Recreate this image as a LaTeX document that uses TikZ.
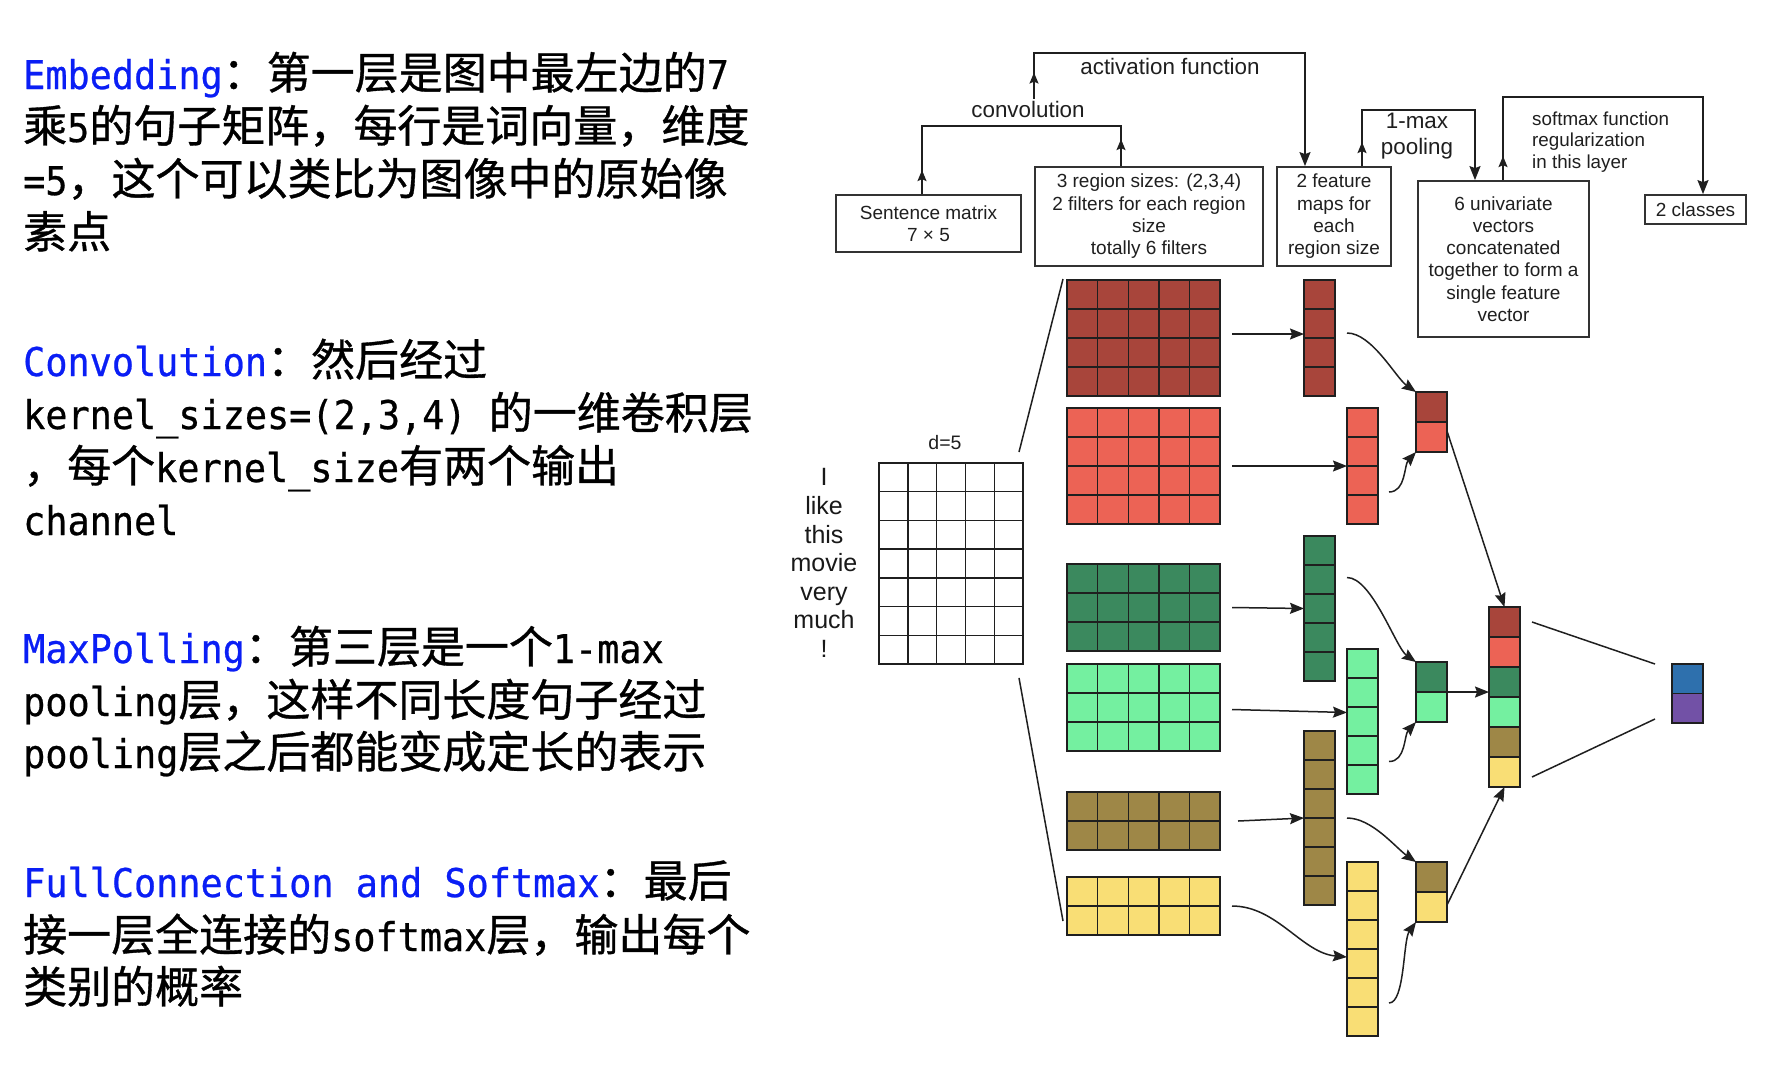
\documentclass[tikz,border=0pt]{standalone}
\usepackage{fontspec}
\setmainfont{Liberation Sans}
\newfontfamily\cjk[FakeBold=0.8]{Noto Sans CJK SC}
\newfontfamily\mono[Scale=0.9,FakeStretch=0.93,FakeBold=0.6]{DejaVu Sans Mono}
\usetikzlibrary{arrows.meta}
\definecolor{dred}{RGB}{168,69,59}
\definecolor{lred}{RGB}{236,99,85}
\definecolor{dgreen}{RGB}{59,137,94}
\definecolor{lgreen}{RGB}{116,240,160}
\definecolor{olive}{RGB}{158,135,71}
\definecolor{yel}{RGB}{249,222,117}
\definecolor{oblue}{RGB}{46,112,173}
\definecolor{opurple}{RGB}{114,81,166}
\definecolor{kwblue}{RGB}{10,30,245}
\definecolor{boxline}{RGB}{50,50,50}
\newcommand\zh[1]{{\cjk #1}}
\newcommand\en[1]{{\mono #1}}
\newcommand\kw[1]{{\mono\color{kwblue}#1}}
\tikzset{
  ltext/.style={anchor=base west, inner sep=0pt, font=\fontsize{44}{53}\selectfont},
  box/.style={draw=boxline, line width=1.8pt, align=center, inner sep=0pt, text=black!88,
              font=\fontsize{19}{22.3}\selectfont},
  lab/.style={inner sep=2pt, align=center, text=black!88, font=\fontsize{22.4}{26.7}\selectfont},
  conn/.style={line width=1.5pt, draw=black!88},
  arr/.style={conn, -{Stealth[length=14pt,width=11pt,inset=2pt]}},
  midup/.style={conn, -{Stealth[length=11pt,width=9pt,inset=2pt]}},
  mat/.style={draw=black!88, line width=1.4pt, anchor=north west, inner sep=0pt, outer sep=0pt},
  gridl/.style={line width=1.4pt, draw=black!88},
  cell/.style={mat, minimum width=31pt, minimum height=30pt},
}
\newcommand\mgrid[8]{%
  \node[mat, fill=#8, minimum width=#4*#6*1pt, minimum height=#5*#7*1pt] (#1) at (#2,#3) {};
  \foreach \k in {1,...,#4} \draw[gridl] ({#2+\k*#6},#3) -- ++(0,#5*#7);
  \foreach \k in {1,...,#5} \draw[gridl] (#2,{#3+\k*#7}) -- ++(#4*#6,0);
}
\begin{document}
\begin{tikzpicture}[x=1pt,y=-1pt]
\fill[white] (0,0) rectangle (1778,1072);
\useasboundingbox (0,0) rectangle (1778,1072);

% ---------------- left text ----------------
\node[ltext] (e1) at (23,89)  {\kw{Embedding}\zh{：第一层是图中最左边的}\en{7}};
\node[ltext] (e2) at (23,142) {\zh{乘}\en{5}\zh{的句子矩阵，每行是词向量，维度}};
\node[ltext] (e3) at (23,195) {\en{=5}\zh{，这个可以类比为图像中的原始像}};
\node[ltext] (e4) at (23,248) {\zh{素点}};

\node[ltext] (c1) at (23,376) {\kw{Convolution}\zh{：然后经过}};
\node[ltext] (c2) at (23,429) {\en{kernel\_sizes=(2,3,4)\ }\zh{的一维卷积层}};
\node[ltext] (c3) at (23,482) {\zh{，每个}\en{kernel\_size}\zh{有两个输出}};
\node[ltext] (c4) at (23,535) {\en{channel}};

\node[ltext] (m1) at (23,663) {\kw{MaxPolling}\zh{：第三层是一个}\en{1-max}};
\node[ltext] (m2) at (23,716) {\en{pooling}\zh{层，这样不同长度句子经过}};
\node[ltext] (m3) at (23,768) {\en{pooling}\zh{层之后都能变成定长的表示}};

\node[ltext] (f1) at (23,897) {\kw{FullConnection and Softmax}\zh{：最后}};
\node[ltext] (f2) at (23,951) {\zh{接一层全连接的}\en{softmax}\zh{层，输出每个}};
\node[ltext] (f3) at (23,1003){\zh{类别的概率}};

% ---------------- top boxes ----------------
\node[box, minimum width=185pt, minimum height=57pt] (sent) at (928.5,223.5) {Sentence matrix\\7 × 5};
\node[box, minimum width=228pt, minimum height=99pt] (filt) at (1149,216.5) {3 region sizes: (2,3,4)\\2 filters for each region\\size\\totally 6 filters};
\node[box, minimum width=114pt, minimum height=99pt] (fmap) at (1334,216.5) {2 feature\\maps for\\each\\region size};
\node[box, minimum width=171pt, minimum height=156pt] (univ) at (1503.5,259) {6 univariate\\vectors\\concatenated\\together to form a\\single feature\\vector};
\node[box, minimum width=101pt, minimum height=29pt] (cls) at (1695.5,209.5) {2 classes};

\node[lab] (conv) at (1028,109) {convolution};
\node[lab] (act) at (1170,66) {activation function};
\node[lab] (pool) at (1417,136) {1-max\\pooling};
\node[lab, anchor=west, align=left, font=\fontsize{18.8}{21.7}\selectfont] (soft) at (1530,142) {softmax function\\regularization\\in this layer};

% top connectors
\coordinate (cvL) at (922,126); \coordinate (cvR) at (1121,126);
\draw[conn] (sent.north -| cvL) -- (cvL) -- (cvR) -- (filt.north -| cvR);
\draw[midup] (sent.north -| cvL) -- ++(0,-24);
\draw[midup] (filt.north -| cvR) -- ++(0,-27);

\coordinate (acL) at (1034,53); \coordinate (acR) at (1305,53);
\draw[arr] (conv.north -| acL) -- (acL) -- (acR) -- (fmap.north -| acR);
\draw[midup] (conv.north -| acL) -- ++(0,-26);

\coordinate (plL) at (1362,110); \coordinate (plR) at (1475,110);
\draw[arr] (fmap.north -| plL) -- (plL) -- (plR) -- (univ.north -| plR);
\draw[midup] (fmap.north -| plL) -- ++(0,-24);

\coordinate (sfL) at (1503,97); \coordinate (sfR) at (1703,97);
\draw[arr] (univ.north -| sfL) -- (sfL) -- (sfR) -- (cls.north -| sfR);
\draw[midup] (univ.north -| sfL) -- ++(0,-24);

% ---------------- sentence matrix ----------------
\mgrid{sg}{879}{463}{5}{7}{28.8}{28.7}{white}
\node[inner sep=0pt, font=\fontsize{19.5}{22}\selectfont, text=black!88] (d5) at (945,443) {d=5};
\node[align=center, inner sep=0pt, font=\fontsize{25}{28.6}\selectfont, text=black!90] (words) at (824,563) {I\\like\\this\\movie\\very\\much\\!};

% ---------------- convolution filters ----------------
\mgrid{r1}{1067}{280}{5}{4}{30.6}{29}{dred}
\mgrid{r2}{1067}{408}{5}{4}{30.6}{29}{lred}
\mgrid{g1}{1067}{564}{5}{3}{30.6}{29}{dgreen}
\mgrid{g2}{1067}{664}{5}{3}{30.6}{29}{lgreen}
\mgrid{om}{1067}{792}{5}{2}{30.6}{29}{olive}
\mgrid{ym}{1067}{877}{5}{2}{30.6}{29}{yel}

\draw[conn] ([shift={(-4pt,11pt)}]sg.north east) -- ([shift={(-4pt,1pt)}]r1.north west);
\draw[conn] ([shift={(-4pt,-14pt)}]sg.south east) -- ([shift={(-4pt,14pt)}]ym.south west);

% ---------------- feature maps ----------------
\mgrid{fr1}{1304}{280}{1}{4}{31}{29}{dred}
\mgrid{fr2}{1347}{408}{1}{4}{31}{29}{lred}
\mgrid{fg1}{1304}{536}{1}{5}{31}{29}{dgreen}
\mgrid{fg2}{1347}{649}{1}{5}{31}{29}{lgreen}
\mgrid{fo}{1304}{731}{1}{6}{31}{29}{olive}
\mgrid{fy}{1347}{862}{1}{6}{31}{29}{yel}

\draw[arr] ([xshift=12pt,yshift=4pt]r1.east) -- ([yshift=4pt]fr1.west);
\draw[arr] ([xshift=12pt]r2.east) -- (fr2.west);
\draw[arr] ([xshift=12pt]g1.east) -- (fg1.west);
\draw[arr] ([xshift=12pt,yshift=-2pt]g2.east) -- ([yshift=9pt]fg2.west);
\draw[arr] ([xshift=18pt]om.east) -- (fo.west);
\draw[arr] ([xshift=12pt]ym.east) .. controls +(45,0) and +(-45,-4) .. ([yshift=-8pt]fy.west);

% ---------------- pooled pairs ----------------
\node[cell, fill=dred] (pr1) at (1416,392) {};
\node[cell, fill=lred] (pr2) at (1416,422) {};
\node[cell, fill=dgreen] (pg1) at (1416,662) {};
\node[cell, fill=lgreen] (pg2) at (1416,692) {};
\node[cell, fill=olive] (py1) at (1416,862) {};
\node[cell, fill=yel] (py2) at (1416,892) {};

\draw[arr] ([xshift=12pt,yshift=5pt]fr1.east) .. controls +(25,0) and +(-20,-14) .. (pr1.north west);
\draw[arr] ([xshift=11pt,yshift=-26pt]fr2.east) .. controls +(17,0) and +(-12,13) .. (pr2.south west);
\draw[arr] ([xshift=12pt,yshift=31pt]fg1.east) .. controls +(25,0) and +(-20,-14) .. (pg1.north west);
\draw[arr] ([xshift=11pt,yshift=-40pt]fg2.east) .. controls +(17,0) and +(-12,13) .. (pg2.south west);
\draw[arr] ([xshift=12pt]fo.east) .. controls +(25,0) and +(-20,-14) .. (py1.north west);
\draw[arr] ([xshift=11pt,yshift=-54pt]fy.east) .. controls +(16,0) and +(-13,18) .. (py2.south west);

% ---------------- concatenated vector ----------------
\node[cell, fill=dred] (cc1) at (1489,607) {};
\node[cell, fill=lred] (cc2) at (1489,637) {};
\node[cell, fill=dgreen] (cc3) at (1489,667) {};
\node[cell, fill=lgreen] (cc4) at (1489,697) {};
\node[cell, fill=olive] (cc5) at (1489,727) {};
\node[cell, fill=yel] (cc6) at (1489,757) {};

\draw[arr] ([yshift=6pt]pr2.east) -- (cc1.north);
\draw[arr] (pg2.north east) -- (pg2.north east -| cc4.west);
\draw[arr] ([yshift=2pt]py2.east) -- (cc6.south);

% ---------------- output ----------------
\node[cell, fill=oblue, minimum height=29.5pt] (out1) at (1672,664) {};
\node[cell, fill=opurple, minimum height=29.5pt] (out2) at (1672,693.5) {};
\draw[conn] ([xshift=12pt]cc1.east) -- ([xshift=-17pt]out1.north west);
\draw[conn] ([xshift=12pt,yshift=-5pt]cc6.east) -- ([xshift=-17pt,yshift=4pt]out2.south west);
\end{tikzpicture}
\end{document}
